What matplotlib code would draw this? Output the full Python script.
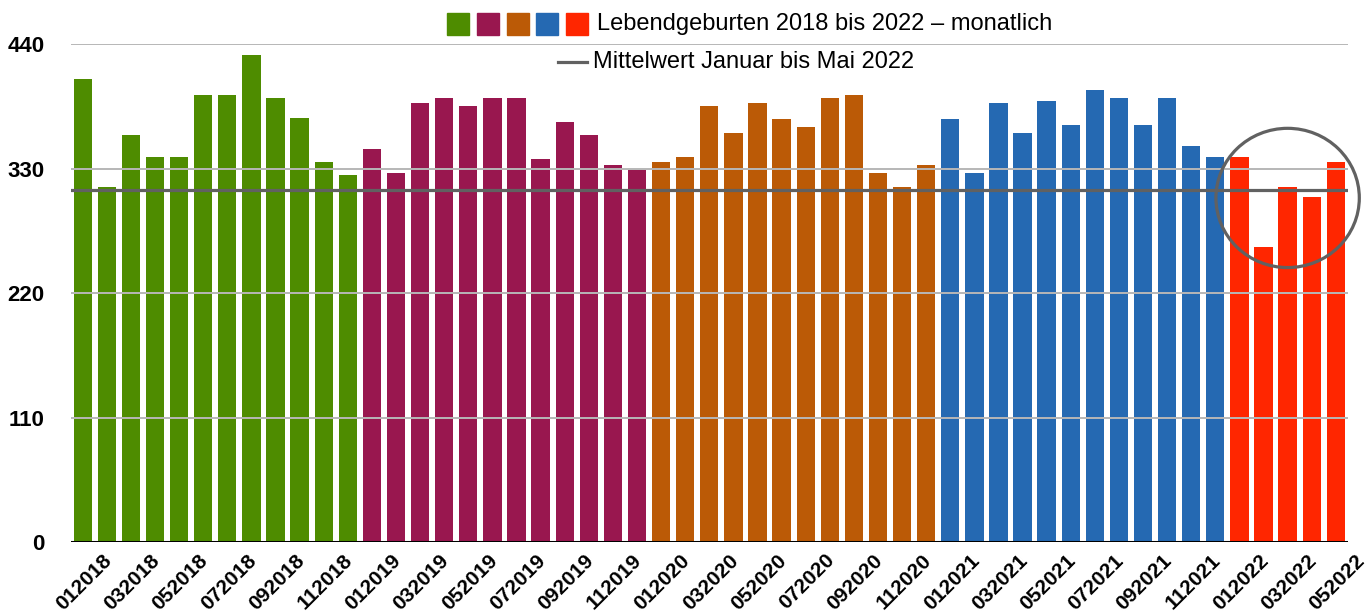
import matplotlib
matplotlib.use("Agg")
import matplotlib.pyplot as plt
import matplotlib.transforms as mtransforms
from matplotlib.patches import Ellipse, Rectangle
from matplotlib.lines import Line2D
import numpy as np

plt.rcParams['font.family'] = ['Liberation Sans', 'DejaVu Sans']

JAHRE = ['2018', '2019', '2020', '2021', '2022']
FARBEN = ['#4e8c00', '#99174f', '#bb5a06', '#2569b2', '#ff2600']

geb_2018 = [409, 314, 360, 340, 340, 395, 395, 430, 392, 375, 336, 324]
geb_2019 = [347, 326, 388, 392, 385, 392, 392, 338, 371, 360, 333, 329]
geb_2020 = [336, 340, 385, 361, 388, 374, 367, 392, 395, 326, 314, 333]
geb_2021 = [374, 326, 388, 361, 390, 368, 399, 392, 368, 392, 350, 340]
geb_2022 = [340, 261, 314, 305, 336]
REIHEN = [geb_2018, geb_2019, geb_2020, geb_2021, geb_2022]

Y_TICKS = [0, 110, 220, 330, 440]

# monatliche Beschriftung, z.B. "012018"
monate = []
werte = []
farben = []
for jahr, reihe, farbe in zip(JAHRE, REIHEN, FARBEN):
    for m, w in enumerate(reihe):
        monate.append('%02d%s' % (m + 1, jahr))
        werte.append(w)
        farben.append(farbe)
x = np.arange(len(werte))
mittel = np.mean(geb_2022)

fig = plt.figure(figsize=(13.67, 6.16), dpi=100)
ax = fig.add_axes([0.0517, 0.120, 0.9343, 0.8086])

ax.bar(x, werte, width=0.76, color=farben, zorder=1)
for y in Y_TICKS[1:]:
    ax.axhline(y, color='#b7b7b7', lw=1.4, zorder=2)
ax.axhline(0, color='black', lw=2.2, zorder=4)
ax.axhline(mittel, color='#616161', lw=2.3, zorder=3)

# Kreis um Januar bis Mai 2022
ax.add_patch(Ellipse((x[-3], 304), width=5.95, height=123, fill=False,
                     edgecolor='#616161', lw=2.3, zorder=5, clip_on=False))

ax.set_xlim(-0.5, len(werte) - 0.5)
ax.set_ylim(0, 440)
ax.set_yticks(Y_TICKS)
ax.set_yticklabels([str(t) for t in Y_TICKS], fontsize=16, fontweight='bold')
ax.tick_params(axis='y', length=0, pad=19)
ax.set_xticks(x[::2])
ax.set_xticklabels(monate[::2], fontsize=15, fontweight='bold',
                   rotation=45, ha='right', va='center', rotation_mode='anchor')
ax.tick_params(axis='x', length=0, pad=11)
versatz = mtransforms.ScaledTranslation(0.26, 0, fig.dpi_scale_trans)
for lbl in ax.get_xticklabels():
    lbl.set_transform(lbl.get_transform() + versatz)
for s in ax.spines.values():
    s.set_visible(False)

# Legende oben
W, H = 1367.0, 616.0
for i, farbe in enumerate(FARBEN):
    fig.add_artist(Rectangle(((447 + i * 29.8) / W, 1 - 35 / H), 22 / W, 22 / H,
                             color=farbe, transform=fig.transFigure))
fig.text(597 / W, 1 - 24 / H, 'Lebendgeburten 2018 bis 2022 – monatlich',
         fontsize=17, va='center', ha='left')
fig.add_artist(Line2D([558 / W, 587 / W], [1 - 62 / H, 1 - 62 / H],
                      color='#616161', lw=2.3, transform=fig.transFigure))
fig.text(593 / W, 1 - 62 / H, 'Mittelwert Januar bis Mai 2022',
         fontsize=17, va='center', ha='left')

fig.savefig('out.png', dpi=100)
